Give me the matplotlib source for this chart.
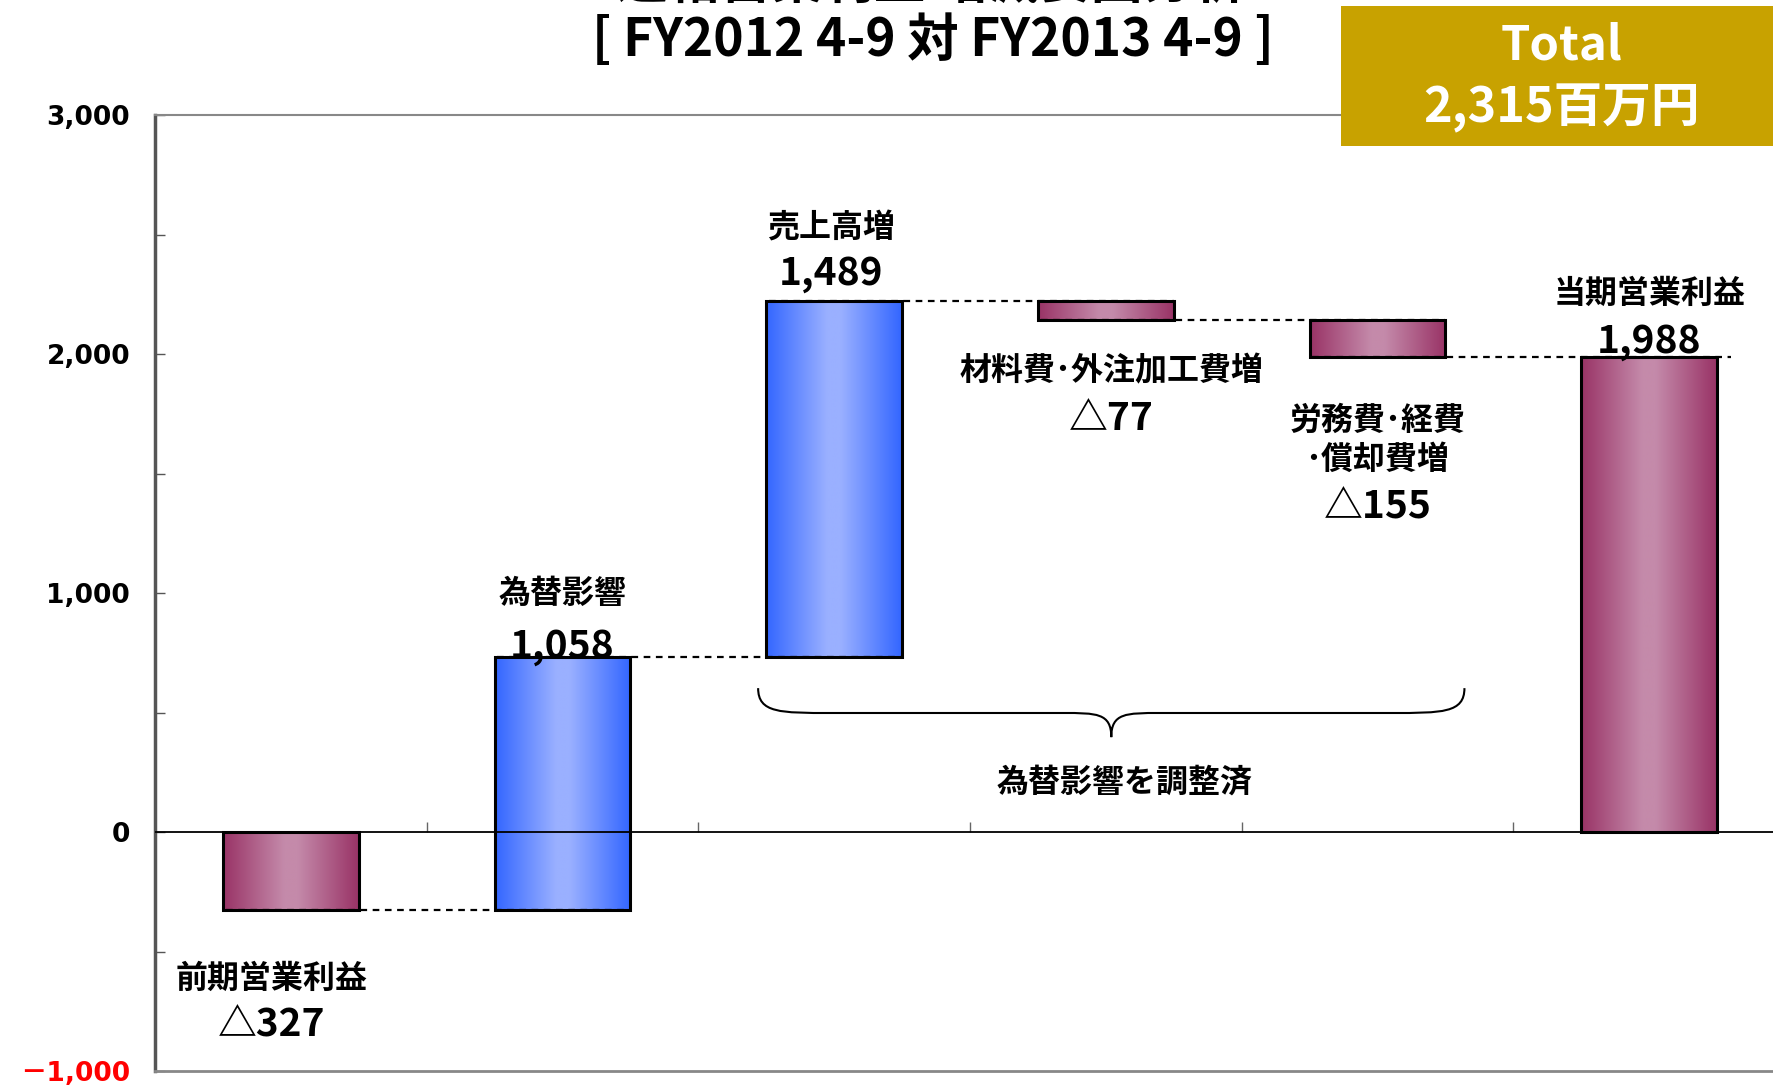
import numpy as np
import matplotlib
matplotlib.use("Agg")
import matplotlib.pyplot as plt
from matplotlib.colors import LinearSegmentedColormap
from matplotlib.patches import Rectangle, PathPatch
from matplotlib.path import Path
from matplotlib.ticker import MultipleLocator, FuncFormatter

JP = ["Noto Sans CJK JP", "DejaVu Sans"]

# data (百万円)
labels = ["前期営業利益", "為替影響", "売上高増", "材料費･外注加工費増", "労務費･経費\n･償却費増", "当期営業利益"]
changes = [-327, 1058, 1489, -77, -155]
total_label = "2,315百万円"
value_texts = ["△327", "1,058", "1,489", "△77", "△155", "1,988"]
kinds = ["maroon", "blue", "blue", "maroon", "maroon", "maroon"]
yticks = [-1000, 0, 1000, 2000, 3000]

levels = np.cumsum(changes)
final = levels[-1]
bottoms = [0] + list(levels[:-1]) + [0]
tops = list(levels) + [final]

grad = {
    "maroon": LinearSegmentedColormap.from_list("m", [(0, "#993366"), (0.45, "#C48AAA"), (0.55, "#C48AAA"), (1, "#993366")]),
    "blue": LinearSegmentedColormap.from_list("b", [(0, "#3366FF"), (0.45, "#9AB0FF"), (0.55, "#9AB0FF"), (1, "#3366FF")]),
}

fig = plt.figure(figsize=(17.74, 10.88), dpi=100)
ax = fig.add_axes([0.0874, 0.0156, 0.9188, 0.8787])
ax.set_xlim(-0.5, 5.5)
ax.set_ylim(yticks[0], yticks[-1])

w = 0.5
x = np.arange(len(labels))
g = np.linspace(0, 1, 256).reshape(1, -1)
for i in range(len(labels)):
    lo, hi = sorted([bottoms[i], tops[i]])
    b = ax.bar(x[i], hi - lo, bottom=lo, width=w, facecolor="none",
               edgecolor="black", linewidth=2.2, zorder=4)[0]
    im = ax.imshow(g, cmap=grad[kinds[i]], aspect="auto", interpolation="bilinear",
                   extent=(x[i] - w / 2, x[i] + w / 2, lo, hi), zorder=3)
    im.set_clip_path(b)

# connector lines
for i, lev in enumerate(levels):
    right = x[i + 1] + w / 2 + (0.05 if i == len(levels) - 1 else 0)
    ax.hlines(lev, x[i] - w / 2 + 0.01, right, colors="black", linestyles=(0, (3, 2.5)),
              linewidth=1.6, zorder=5)

# zero line with category ticks
ax.axhline(0, color="black", linewidth=1.3, zorder=6)
ylo, yhi = ax.get_ylim()
sec = ax.secondary_xaxis((0 - ylo) / (yhi - ylo))
sec.set_xticks(x[:-1] + 0.5)
sec.tick_params(direction="in", length=7, width=1, labelbottom=False, labeltop=False, color="#666666")
sec.spines["bottom"].set_visible(False)
sec.spines["top"].set_visible(False)
ax.set_xticks([])

# y axis
ax.set_yticks(yticks)
ax.yaxis.set_minor_locator(MultipleLocator(500))
ax.yaxis.set_major_formatter(FuncFormatter(lambda v, p: f"{v:,.0f}".replace("-", "－")))
ax.tick_params(axis="y", which="both", direction="in", length=7, width=1, pad=18, color="#555555")
for tk in ax.yaxis.get_major_ticks():
    tk.label1.set_fontfamily(["DejaVu Sans", "Noto Sans CJK JP"])
    tk.label1.set_fontweight("bold")
    tk.label1.set_fontsize(19)
ax.yaxis.get_major_ticks()[0].label1.set_color("red")
ax.spines["left"].set_color("#555555")
ax.spines["left"].set_linewidth(2.5)
ax.spines["top"].set_color("#888888")
ax.spines["top"].set_linewidth(1.5)
ax.spines["bottom"].set_color("#888888")
ax.spines["bottom"].set_linewidth(2)
ax.spines["right"].set_visible(False)

# labels above / below bars
name_pos = [(-0.07, -615), (0, 996), (-0.01, 2527), (0.02, 1929), (0, 1638), (0, 2251)]
val_pos = [(-0.07, -808), (0, 778), (-0.01, 2335), (0.02, 1732), (0, 1360), (0, 2054)]
for i in range(len(labels)):
    dx, y = name_pos[i]
    ax.text(x[i] + dx, y, labels[i], ha="center", va="center", fontsize=23,
            fontweight="bold", family=JP, linespacing=1.3, zorder=7)
    dx, y = val_pos[i]
    ax.text(x[i] + dx, y, value_texts[i], ha="center", va="center", fontsize=28,
            fontweight="bold", family=JP, zorder=7)

# brace over the fx-adjusted items
bx0, bx1, bxm = x[2] - w / 2 - 0.03, x[4] + w / 2 + 0.07, x[3] + 0.02
y_end, y_mid, y_tip = 602, 498, 397
ce, ct = 0.27, 0.18
verts = [(bx0, y_end), (bx0, y_mid), (bx0 + ce * 0.3, y_mid), (bx0 + ce, y_mid),
         (bxm - ct, y_mid),
         (bxm - ct * 0.3, y_mid), (bxm, y_mid), (bxm, y_tip),
         (bxm, y_mid), (bxm + ct * 0.3, y_mid), (bxm + ct, y_mid),
         (bx1 - ce, y_mid),
         (bx1 - ce * 0.3, y_mid), (bx1, y_mid), (bx1, y_end)]
codes = [Path.MOVETO, Path.CURVE4, Path.CURVE4, Path.CURVE4, Path.LINETO,
         Path.CURVE4, Path.CURVE4, Path.CURVE4,
         Path.CURVE4, Path.CURVE4, Path.CURVE4, Path.LINETO,
         Path.CURVE4, Path.CURVE4, Path.CURVE4]
ax.add_patch(PathPatch(Path(verts, codes), facecolor="none", edgecolor="black", linewidth=1.5, zorder=7))
ax.text(bxm + 0.05, 205, "為替影響を調整済", ha="center", va="center", fontsize=23,
        fontweight="bold", family=JP)

# title (first line cut by the top edge)
fig.text(0.525, 1.016, "連結営業利益 増減要因分析", ha="center", va="center", fontsize=37,
         fontweight="bold", family=JP)
fig.text(0.526, 0.963, "[ FY2012 4-9 対 FY2013 4-9 ]", ha="center", va="center", fontsize=37,
         fontweight="bold", family=JP)

# total box
fig.patches.append(Rectangle((0.756, 0.866), 0.25, 0.1285, transform=fig.transFigure,
                             facecolor="#C8A200", edgecolor="none", zorder=10))
fig.text(0.88, 0.9586, "Total", ha="center", va="center", fontsize=34, color="white",
         fontweight="bold", family=JP, zorder=11)
fig.text(0.88, 0.90, total_label, ha="center", va="center", fontsize=35, color="white",
         fontweight="bold", family=JP, zorder=11)

fig.savefig("out.png", dpi=100)
